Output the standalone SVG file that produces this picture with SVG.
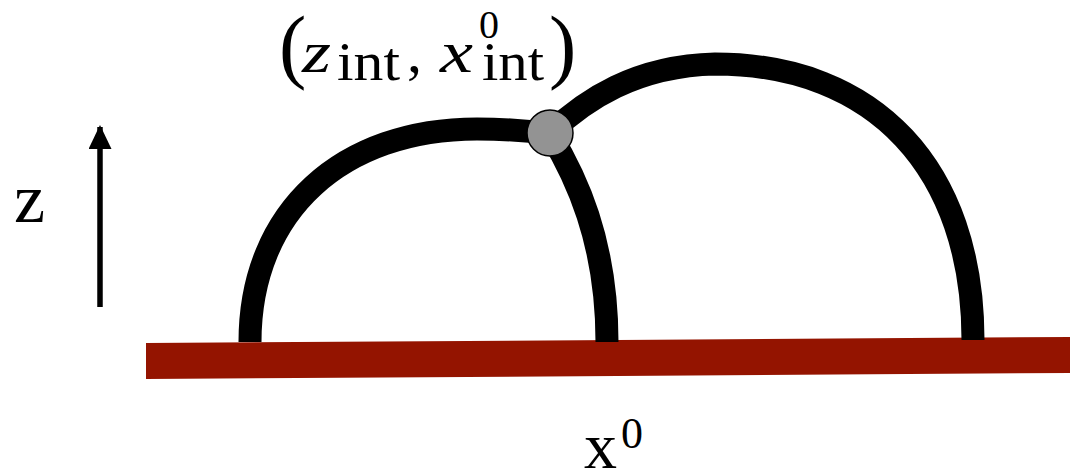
<svg xmlns="http://www.w3.org/2000/svg" width="1070" height="473" viewBox="0 0 1070 473">
  <style>
    .arc { fill: none; stroke: #000; stroke-width: 23; stroke-linecap: butt; stroke-linejoin: round; }
    .rm { font-family: "Liberation Serif", "Times New Roman", serif; fill: #000; }
    .it { font-family: "Liberation Serif", "Times New Roman", serif; font-style: italic; fill: #000; }
  </style>
  <defs>
    <marker id="head" viewBox="0 0 24 23" refX="22" refY="11.5" markerWidth="24" markerHeight="23" markerUnits="userSpaceOnUse" orient="auto">
      <path d="M0,0 L24,11.5 L0,23 z" fill="#000"/>
    </marker>
  </defs>
  <rect width="1070" height="473" fill="#fff"/>

  <g id="surface">
    <polygon points="146,343 1070,337 1070,373 146,379" fill="#941400"/>
  </g>

  <g id="bubble-left">
    <path class="arc" d="M250,342 C250,210 343,129 477,129 C505,129 530,131 550,134 C575,175 607,240 607,342"/>
  </g>

  <g id="bubble-right">
    <path class="arc" d="M550,133 C585,100 635,66 715,64 C875,64 973,169 973,340"/>
  </g>

  <g id="intersection">
    <circle cx="550" cy="133" r="23" fill="#939393" stroke="#000" stroke-width="1.5"/>
  </g>

  <g id="connectors">
    <line x1="100" y1="307" x2="100" y2="127" stroke="#000" stroke-width="5.5" marker-end="url(#head)"/>
  </g>

  <g id="label-z">
    <text class="rm" x="14" y="222" font-size="70">z</text>
  </g>

  <g id="label-x0">
    <text class="rm" x="584" y="468" font-size="66">x</text>
    <text class="rm" x="621" y="448" font-size="44">0</text>
  </g>

  <g id="label-intersection">
    <text class="rm" x="279" y="73" font-size="82">(</text>
    <text class="it" x="302" y="72" font-size="60" textLength="29" lengthAdjust="spacingAndGlyphs">z</text>
    <text class="rm" x="337" y="80" font-size="54" textLength="63" lengthAdjust="spacingAndGlyphs">int</text>
    <text class="rm" x="407" y="72" font-size="60">,</text>
    <text class="it" x="440" y="72" font-size="60" textLength="33" lengthAdjust="spacingAndGlyphs">x</text>
    <text class="rm" x="479" y="38" font-size="40">0</text>
    <text class="rm" x="482" y="80" font-size="54" textLength="62" lengthAdjust="spacingAndGlyphs">int</text>
    <text class="rm" x="549" y="73" font-size="82">)</text>
  </g>
</svg>
